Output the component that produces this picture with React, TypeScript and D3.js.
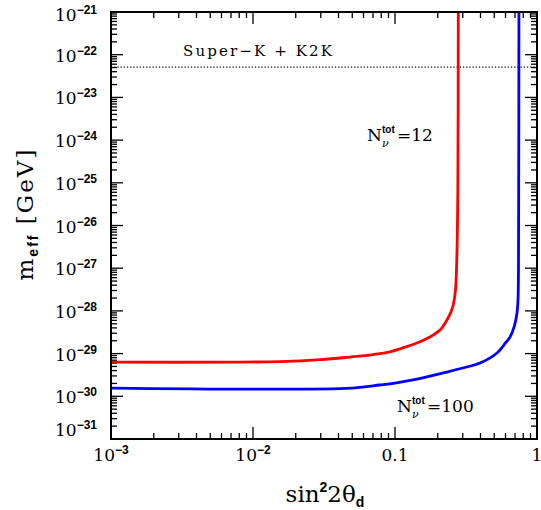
import React from 'react';
import * as d3 from 'd3';

// curve readings (sin^2 2theta, m_eff in GeV)
const redSin = [0.001, 0.0155, 0.03, 0.048, 0.07, 0.092, 0.12, 0.15, 0.176, 0.2075, 0.232, 0.2477, 0.258, 0.2667, 0.2723, 0.277, 0.279];
const redM = [6.3e-30, 6.5e-30, 7.2e-30, 8.3e-30, 9.5e-30, 1.1e-29, 1.45e-29, 1.9e-29, 2.45e-29, 3.57e-29, 6.1e-29, 9.4e-29, 1.45e-28, 3.1e-28, 1.55e-27, 6.8e-26, 1e-21];

const blueSin = [0.001, 0.05, 0.078, 0.1, 0.134, 0.232, 0.3, 0.397, 0.523, 0.6, 0.646, 0.695, 0.723, 0.735, 0.742, 0.746];
const blueM = [1.56e-30, 1.56e-30, 1.84e-30, 2.04e-30, 2.41e-30, 3.7e-30, 4.6e-30, 6.0e-30, 1.03e-29, 1.78e-29, 2.45e-29, 4.6e-29, 8.9e-29, 1.8e-28, 1e-26, 1e-21];

const superKLimit = 5.1e-23;

const xTickVals = [1e-3, 1e-2, 0.1, 1];
const xTickLabels = [['10', '−3'], ['10', '−2'], ['0.1', ''], ['1', '']];
const yExponents = [-21, -22, -23, -24, -25, -26, -27, -28, -29, -30, -31];

const W = 541;
const H = 510;
const L = 111, R = 537, T = 12, B = 439;

const serif = '"DejaVu Serif", "Liberation Serif", serif';
const sans = '"Liberation Sans", "DejaVu Sans", sans-serif';

function NLabel({ x, y, value }: { x: number; y: number; value: string }) {
  return (
    <g fontFamily={serif}>
      <text x={x} y={y} fontSize={17}>N</text>
      <text x={x + 15} y={y - 8} fontFamily={sans} fontWeight="bold" fontSize={10}>tot</text>
      <text x={x + 15} y={y + 6} fontStyle="italic" fontSize={11}>ν</text>
      <text x={x + 30} y={y} fontSize={17}>{value}</text>
    </g>
  );
}

export default function App() {
  const x = d3.scaleLog().domain([1e-3, 1]).range([L, R]);
  const y = d3.scaleLog().domain([1e-31, 1e-21]).range([B, T]);

  const line = d3.line<[number, number]>()
    .x(d => x(d[0]))
    .y(d => y(d[1]))
    .curve(d3.curveCatmullRom.alpha(0.5));

  const red = redSin.map((s, i) => [s, redM[i]] as [number, number]);
  const blue = blueSin.map((s, i) => [s, blueM[i]] as [number, number]);

  // minor ticks at 2..9 of each decade
  const xMinor: number[] = [];
  for (let e = -3; e < 0; e++) {
    for (let k = 2; k <= 9; k++) xMinor.push(k * Math.pow(10, e));
  }
  const yMinor: number[] = [];
  for (let e = -31; e < -21; e++) {
    for (let k = 2; k <= 9; k++) yMinor.push(k * Math.pow(10, e));
  }

  return (
    <div style={{ position: 'absolute', left: 0, top: 0 }}>
      <svg width={W} height={H} style={{ display: 'block', background: '#fff' }}>
        <defs>
          <clipPath id="plot">
            <rect x={L} y={T} width={R - L} height={B - T} />
          </clipPath>
        </defs>

        {/* ticks */}
        <g stroke="#000" strokeWidth={1.3}>
          {xMinor.map((v, i) => (
            <g key={'xm' + i}>
              <line x1={x(v)} x2={x(v)} y1={B} y2={B - 6} />
              <line x1={x(v)} x2={x(v)} y1={T} y2={T + 6} />
            </g>
          ))}
          {xTickVals.map((v, i) => (
            <g key={'xM' + i}>
              <line x1={x(v)} x2={x(v)} y1={B} y2={B - 12} />
              <line x1={x(v)} x2={x(v)} y1={T} y2={T + 12} />
            </g>
          ))}
          {yMinor.map((v, i) => (
            <g key={'ym' + i}>
              <line x1={L} x2={L + 6} y1={y(v)} y2={y(v)} />
              <line x1={R} x2={R - 6} y1={y(v)} y2={y(v)} />
            </g>
          ))}
          {yExponents.map(e => (
            <g key={'yM' + e}>
              <line x1={L} x2={L + 12} y1={y(Math.pow(10, e))} y2={y(Math.pow(10, e))} />
              <line x1={R} x2={R - 12} y1={y(Math.pow(10, e))} y2={y(Math.pow(10, e))} />
            </g>
          ))}
        </g>

        {/* Super-K + K2K limit */}
        <line x1={L} x2={R} y1={y(superKLimit)} y2={y(superKLimit)}
          stroke="#000" strokeWidth={1.2} strokeDasharray="1.2,2" />

        {/* curves */}
        <g clipPath="url(#plot)" fill="none" strokeWidth={2.8} strokeLinejoin="round">
          <path d={line(red) || ''} stroke="#ff0000" />
          <path d={line(blue) || ''} stroke="#0000ff" />
        </g>

        {/* frame */}
        <rect x={L} y={T} width={R - L} height={B - T} fill="none" stroke="#000" strokeWidth={2} />

        {/* y tick labels */}
        {yExponents.map(e => {
          const ty = Math.min(Math.max(y(Math.pow(10, e)) + 7, 21), 436);
          return (
            <text key={'yl' + e} x={97} y={ty} textAnchor="end" fontFamily={serif} fontSize={17}>
              10<tspan fontFamily={sans} fontWeight="bold" fontSize={12} dy={-7}>−{Math.abs(e)}</tspan>
            </text>
          );
        })}

        {/* x tick labels */}
        {xTickVals.map((v, i) => (
          <text key={'xl' + i} x={x(v)} y={461} textAnchor="middle" fontFamily={serif} fontSize={17}>
            {xTickLabels[i][0]}
            {xTickLabels[i][1] && (
              <tspan fontFamily={sans} fontWeight="bold" fontSize={12} dy={-7}>{xTickLabels[i][1]}</tspan>
            )}
          </text>
        ))}

        {/* axis titles */}
        <text x={325} y={502} textAnchor="middle" fontFamily={serif} fontSize={23}>
          sin<tspan fontFamily={sans} fontWeight="bold" fontSize={14} dy={-10}>2</tspan>
          <tspan dy={10}>2θ</tspan>
          <tspan fontFamily={sans} fontWeight="bold" fontSize={14} dy={5}>d</tspan>
        </text>
        <text transform="translate(33,215) rotate(-90)" textAnchor="middle" fontFamily={serif} fontSize={23}
          textLength={131} lengthAdjust="spacing">
          m<tspan fontFamily={sans} fontWeight="bold" fontSize={14} dy={5}>eff</tspan>
          <tspan dy={-5}>{'  [GeV]'}</tspan>
        </text>

        {/* annotations */}
        <text x={183} y={56} fontFamily={serif} fontSize={15} textLength={149} lengthAdjust="spacing">
          Super−K + K2K
        </text>
        <NLabel x={367} y={141} value="=12" />
        <NLabel x={397} y={412} value="=100" />
      </svg>
    </div>
  );
}
